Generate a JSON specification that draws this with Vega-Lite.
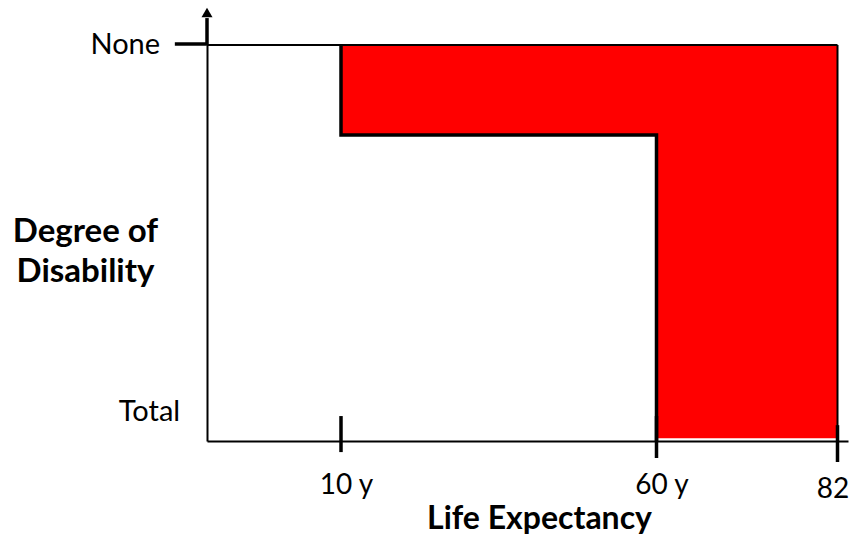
{
  "$schema": "https://vega.github.io/schema/vega-lite/v6.json",
  "width": 641,
  "height": 396,
  "autosize": "none",
  "padding": {"left": 207, "top": 45, "right": 1, "bottom": 96},
  "background": "white",
  "config": {"view": {"stroke": null}, "font": "Lato"},
  "datasets": {
    "red": [
      {"x": 10, "x2": 82, "y": 0, "y2": 0.227},
      {"x": 60, "x2": 82, "y": 0.227, "y2": 0.993}
    ],
    "step": [
      {"i": 0, "x": 10, "y": 0},
      {"i": 1, "x": 10, "y": 0.227},
      {"i": 2, "x": 60, "y": 0.227},
      {"i": 3, "x": 60, "y": 1}
    ],
    "frame": [
      {"x": 0, "x2": 82, "y": 0, "y2": 0},
      {"x": 82, "x2": 82, "y": 0, "y2": 1}
    ],
    "ticks": [
      {"x": 10, "x2": 10, "y": 0.937, "y2": 1.028},
      {"x": 60, "x2": 60, "y": 0.937, "y2": 1.043},
      {"x": 82, "x2": 82, "y": 0.96, "y2": 1.053},
      {"x": 0, "x2": 0, "y": -0.0025, "y2": -0.068},
      {"x": -2.4, "x2": 0, "y": -0.0025, "y2": -0.0025}
    ],
    "arrow": [{"x": 0, "y": -0.082}],
    "labels": [
      {"label": "None", "x": -3.5, "y": 0},
      {"label": "Total", "x": -2.0, "y": 0.927}
    ]
  },
  "encoding": {
    "x": {
      "field": "x",
      "type": "quantitative",
      "scale": {"type": "linear", "domain": [0, 10, 60, 82, 84], "range": [0, 134, 449.5, 630.5, 641], "nice": false, "zero": false},
      "axis": {
        "values": [10, 60, 82],
        "labelExpr": "datum.value == 82 ? '82' : datum.value + ' y'",
        "ticks": false,
        "grid": false,
        "domainColor": "black",
        "domainWidth": 2,
        "labelColor": "black",
        "labelFontSize": 28,
        "labelBaseline": "alphabetic",
        "labelPadding": {"condition": {"test": "datum.value == 82", "value": 56}, "value": 52},
        "labelOffset": {"condition": {"test": "datum.value == 82", "value": -5}, "value": 5},
        "title": "Life Expectancy",
        "titleFontSize": 32,
        "titleFontWeight": "bold",
        "titleColor": "black",
        "titleX": 332,
        "titleY": 87,
        "titleBaseline": "alphabetic",
        "titleAlign": "center",
        "zindex": 1
      }
    },
    "y": {
      "field": "y",
      "type": "quantitative",
      "scale": {"domain": [0, 1], "reverse": true, "nice": false, "zero": false},
      "axis": {
        "ticks": false,
        "labels": false,
        "grid": false,
        "domainColor": "black",
        "domainWidth": 2,
        "title": ["Degree of", "Disability"],
        "titleAngle": 0,
        "titleAlign": "center",
        "titleBaseline": "alphabetic",
        "titleX": -122,
        "titleY": 196,
        "titleFontSize": 33,
        "titleFontWeight": "bold",
        "titleLineHeight": 40,
        "titleColor": "black",
        "zindex": 1
      }
    }
  },
  "layer": [
    {
      "data": {"name": "red"},
      "mark": {"type": "rect", "color": "#FF0000"},
      "encoding": {"x2": {"field": "x2"}, "y2": {"field": "y2"}}
    },
    {
      "data": {"name": "frame"},
      "mark": {"type": "rule", "color": "black", "strokeWidth": 2},
      "encoding": {"x2": {"field": "x2"}, "y2": {"field": "y2"}}
    },
    {
      "data": {"name": "step"},
      "mark": {"type": "line", "color": "black", "strokeWidth": 3.5, "strokeJoin": "miter"},
      "encoding": {"order": {"field": "i", "type": "quantitative"}}
    },
    {
      "data": {"name": "ticks"},
      "mark": {"type": "rule", "color": "black", "strokeWidth": 3.5},
      "encoding": {"x2": {"field": "x2"}, "y2": {"field": "y2"}}
    },
    {
      "data": {"name": "arrow"},
      "mark": {"type": "point", "shape": "triangle-up", "filled": true, "color": "black", "size": 121, "opacity": 1}
    },
    {
      "data": {"name": "labels"},
      "mark": {"type": "text", "align": "right", "baseline": "middle", "fontSize": 29, "color": "black"},
      "encoding": {"text": {"field": "label"}}
    }
  ]
}
